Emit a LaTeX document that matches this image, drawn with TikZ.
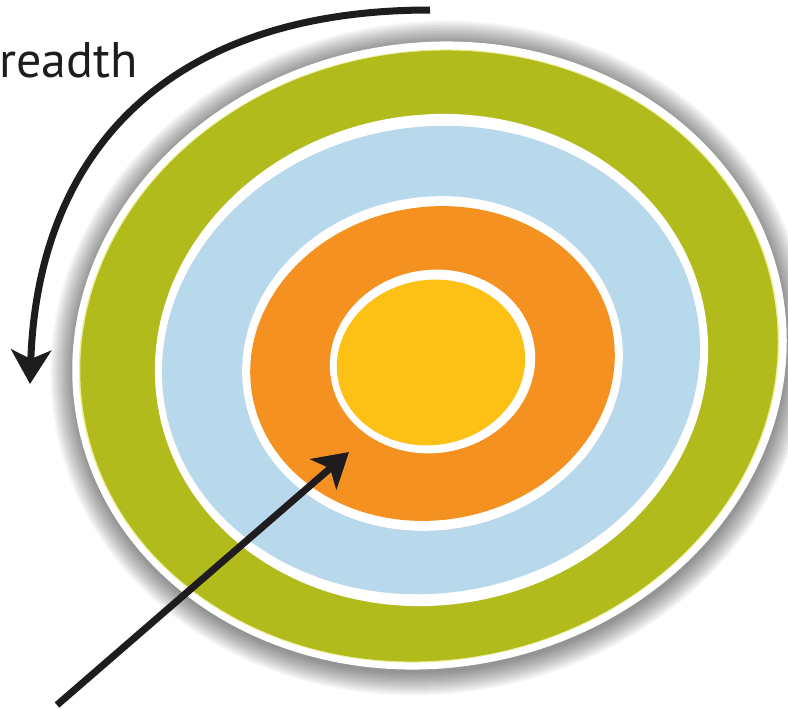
\documentclass[tikz,border=0pt]{standalone}
\usepackage{fontspec}
\setmainfont{PT Sans}
\usetikzlibrary{arrows.meta}
\definecolor{ringgreen}{RGB}{178,187,28}
\definecolor{ringblue}{RGB}{184,216,235}
\definecolor{ringorange}{RGB}{244,145,32}
\definecolor{ringyellow}{RGB}{253,192,20}
\definecolor{edgeyellow}{RGB}{238,240,160}
\definecolor{inkblack}{RGB}{30,28,30}
\newcommand\targetring[5]{%
  \fill[#1, shift={(#2,-#3)}, rotate=10] (0,0) ellipse [x radius=#4, y radius=#5];}
\begin{document}
\begin{tikzpicture}[x=1pt,y=1pt,
  textlabel/.style={font=\fontsize{50}{56}\selectfont, text=inkblack, inner sep=0pt},
  bigarrow/.style={draw=inkblack, line width=7pt,
    -{Stealth[length=34pt, width=40pt, inset=9pt]}}]
\useasboundingbox (0,0) rectangle (788,-710);
\fill[white] (0,0) rectangle (788,-710);
% soft shadow round the target
\foreach \i in {1,...,16}{
  \pgfmathsetmacro\ra{357+1.5*\i}
  \pgfmathsetmacro\rb{312+1.5*\i}
  \fill[black, opacity=0.03, shift={(430,-358)}, rotate=10] (0,0) ellipse [x radius=\ra, y radius=\rb];
}
% rings, outer to inner
\targetring{white}{429.5}{355.5}{358.5}{312.5}
\fill[edgeyellow, shift={(429,-356)}, rotate=10] (0,0) ellipse [x radius=351.5, y radius=305];
\targetring{ringgreen}{429}{356}{350}{304}
\targetring{white}{431.5}{360}{277.5}{245}
\targetring{ringblue}{431}{360}{270}{233}
\targetring{white}{432.5}{363.5}{191}{166.5}
\targetring{ringorange}{432.5}{363.5}{183}{156.5}
\targetring{white}{432.5}{361.5}{103}{91.5}
\targetring{ringyellow}{431}{362.5}{94.5}{82.5}
% label
\node[textlabel, anchor=base west] (breadth) at (-1,-77) {readth};
% curved arrow
\coordinate (arcstart) at (430,-10);
\coordinate (arcend) at (30,-384);
\draw[bigarrow] (arcstart) .. controls (170,-10) and (38,-150) .. (arcend);
% pointer arrow
\coordinate (ptrstart) at (57,-705);
\coordinate (ptrend) at (349,-452);
\draw[bigarrow] (ptrstart) -- (ptrend);
\end{tikzpicture}
\end{document}
